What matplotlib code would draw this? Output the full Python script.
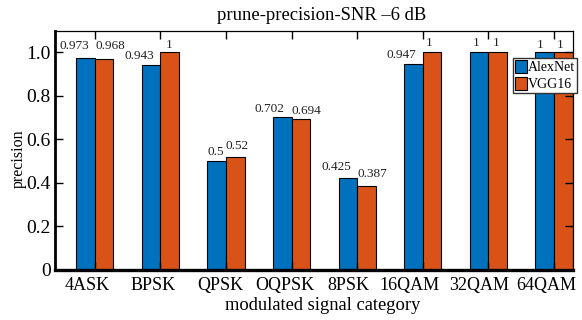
import numpy as np
import matplotlib.pyplot as plt
from matplotlib.transforms import ScaledTranslation

# data
categories = ['4ASK', 'BPSK', 'QPSK', 'OQPSK', '8PSK', '16QAM', '32QAM', '64QAM']
alexnet = [0.973, 0.943, 0.5, 0.702, 0.425, 0.947, 1, 1]
vgg16 = [0.968, 1, 0.52, 0.694, 0.387, 1, 1, 1]
yticks = [0, 0.2, 0.4, 0.6, 0.8, 1.0]
ytick_labels = ['0', '0.2', '0.4', '0.6', '0.8', '1.0']

# hand-placed value labels (pixel offsets from bar top centre)
alex_offsets = [(-11, 13), (-11.5, 10), (-0.5, 10), (-13, 9), (-11.5, 12), (-12, 10), (-3, 10), (-4, 8)]
vgg_offsets = [(6.5, 14), (0, 8), (2, 11.5), (6, 9), (5.5, 12.5), (-2.5, 10), (-1.5, 10), (-3, 8)]
# tick labels sit a little left of their ticks in the original
xlabel_shift = [-7.5, -7, -6, -6.5, -9, -13, -9, -7.5]

plt.rcParams['font.family'] = ['Liberation Serif', 'DejaVu Serif']

fig = plt.figure(figsize=(5.82, 3.2), dpi=100)
ax = fig.add_axes([55 / 582, 50 / 320, 518 / 582, 239.3 / 320])

x = np.arange(1, len(categories) + 1)
w = 0.284
blue = '#0072BD'
orange = '#D95319'
b1 = ax.bar(x - w / 2, alexnet, w, color=blue, edgecolor='black', linewidth=0.8, label='AlexNet')
b2 = ax.bar(x + w / 2, vgg16, w, color=orange, edgecolor='black', linewidth=0.8, label='VGG16')

def add_labels(bars, values, offsets):
    for rect, v, (dx, dy) in zip(bars, values, offsets):
        ax.annotate('%g' % v, (rect.get_x() + rect.get_width() / 2, rect.get_height()),
                    xytext=(dx, dy - 1), textcoords='offset pixels',
                    ha='center', va='center', fontsize=9.5, color='#222222')

add_labels(b1, alexnet, alex_offsets)
add_labels(b2, vgg16, vgg_offsets)

ax.set_xlim(0.395, 8.29)
ax.set_ylim(0, 1.1)
ax.set_xticks(x)
ax.set_xticklabels(categories, fontsize=13)
ax.set_yticks(yticks)
ax.set_yticklabels(ytick_labels, fontsize=14)
ax.tick_params(direction='in', length=6, width=1, top=True, right=True)
ax.tick_params(axis='x', pad=5)
ax.tick_params(axis='y', pad=3)

for lab, s in zip(ax.get_xticklabels(), xlabel_shift):
    lab.set_transform(lab.get_transform() + ScaledTranslation(s / 100, 0, fig.dpi_scale_trans))

for side, lw in [('left', 2), ('bottom', 2.4), ('top', 0.9), ('right', 0.9)]:
    ax.spines[side].set_linewidth(lw)

leg = ax.legend(loc='upper right', bbox_to_anchor=(1.008, 0.886), fontsize=10,
                handlelength=0.85, handleheight=1.1, handletextpad=0.05,
                borderpad=0.15, labelspacing=0.15, borderaxespad=0,
                fancybox=False, framealpha=1)
leg.get_frame().set_edgecolor('#333333')
leg.get_frame().set_linewidth(1)

fig.text(322 / 582, 1 - 15 / 320, 'prune-precision-SNR \u20136 dB', ha='center', va='center', fontsize=13.4)
fig.text(322.5 / 582, 1 - 305 / 320, 'modulated signal category', ha='center', va='center', fontsize=13.3)
fig.text(19 / 582, 1 - 159 / 320, 'precision', ha='center', va='center', rotation=90, fontsize=11.5)

fig.savefig('out.png', dpi=100)
